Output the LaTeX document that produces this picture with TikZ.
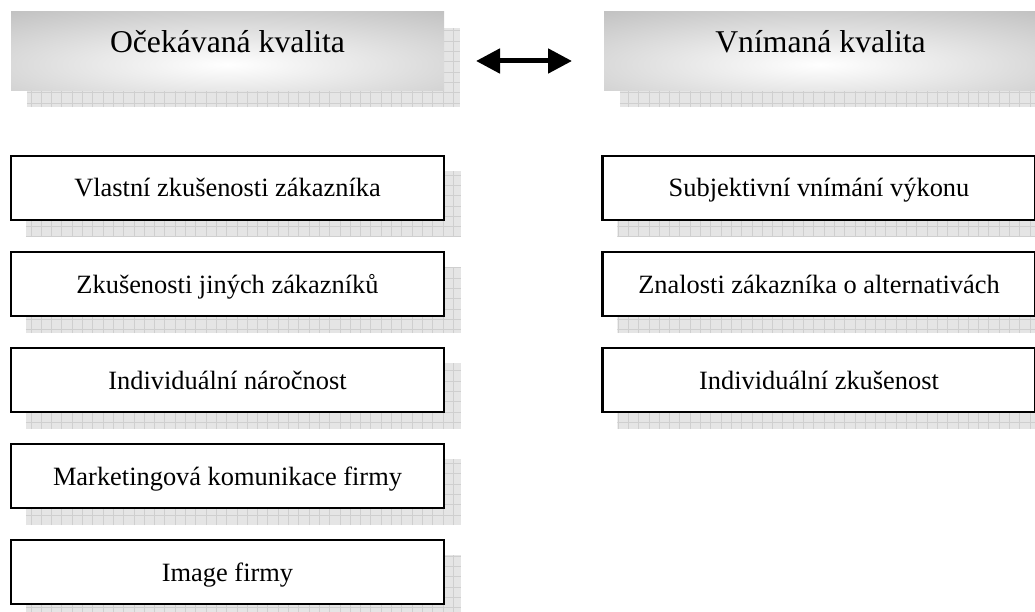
\documentclass[tikz,border=0pt]{standalone}
\usepackage{fontspec}
\setmainfont{Liberation Serif}
\usetikzlibrary{arrows.meta,backgrounds}

\tikzset{
  header/.style={fill=black!25, minimum width=433pt, minimum height=79pt,
    inner sep=0pt, text height=21pt, text depth=18pt, font=\fontsize{31.7}{36}\selectfont,
    path picture={\shade[inner color=white, outer color=black!25]
      ([yshift=-13pt]path picture bounding box.center) ellipse (370pt and 70pt);}},
  entry/.style={draw=black, line width=2.2pt, fill=white, minimum width=433pt,
    minimum height=64pt, inner sep=0pt, text height=18pt, text depth=0pt,
    font=\fontsize{26.4}{30}\selectfont},
  gridshadow/.style={fill=black!10},
  gridline/.style={draw=black!19, line width=0.8pt},
  bothway/.style={line width=5pt,
    {Triangle[length=24pt,width=24pt]}-{Triangle[length=24pt,width=24pt]}}
}

% squared shadow behind a node, offset right and down
\newcommand\gridshadowof[1]{%
  \begin{scope}
    \clip ([shift={(16,16)}]#1.north west) rectangle ([shift={(16,16)}]#1.south east);
    \fill[gridshadow] ([shift={(16,16)}]#1.north west) rectangle ([shift={(16,16)}]#1.south east);
    \draw[gridline, step=10.3pt] ([shift={(16,16)}]#1.north west) grid ([shift={(16,16)}]#1.south east);
  \end{scope}}

\begin{document}
\begin{tikzpicture}[x=1pt,y=-1pt]
\useasboundingbox (0,0) rectangle (1035,612);

% title bars
\node[header] (hl) at (227.5,51.5) {Očekávaná kvalita};
\node[header] (hr) at (820.5,51.5) {Vnímaná kvalita};

% left column
\node[entry] (l1) at (227.5,188) {Vlastní zkušenosti zákazníka};
\node[entry] (l2) at (227.5,284) {Zkušenosti jiných zákazníků};
\node[entry] (l3) at (227.5,380) {Individuální náročnost};
\node[entry] (l4) at (227.5,476) {Marketingová komunikace firmy};
\node[entry] (l5) at (227.5,572) {Image firmy};

% right column
\node[entry] (r1) at (819,188) {Subjektivní vnímání výkonu};
\node[entry] (r2) at (819,284) {Znalosti zákazníka o alternativách};
\node[entry] (r3) at (819,380) {Individuální zkušenost};

% two-way arrow between the titles
\coordinate (al) at (476,61);
\coordinate (ar) at (572,61);
\draw[bothway] (al) -- (ar);

\begin{scope}[on background layer]
  \foreach \n in {hl,hr,l1,l2,l3,l4,l5,r1,r2,r3} {\gridshadowof{\n}}
\end{scope}
\end{tikzpicture}
\end{document}
